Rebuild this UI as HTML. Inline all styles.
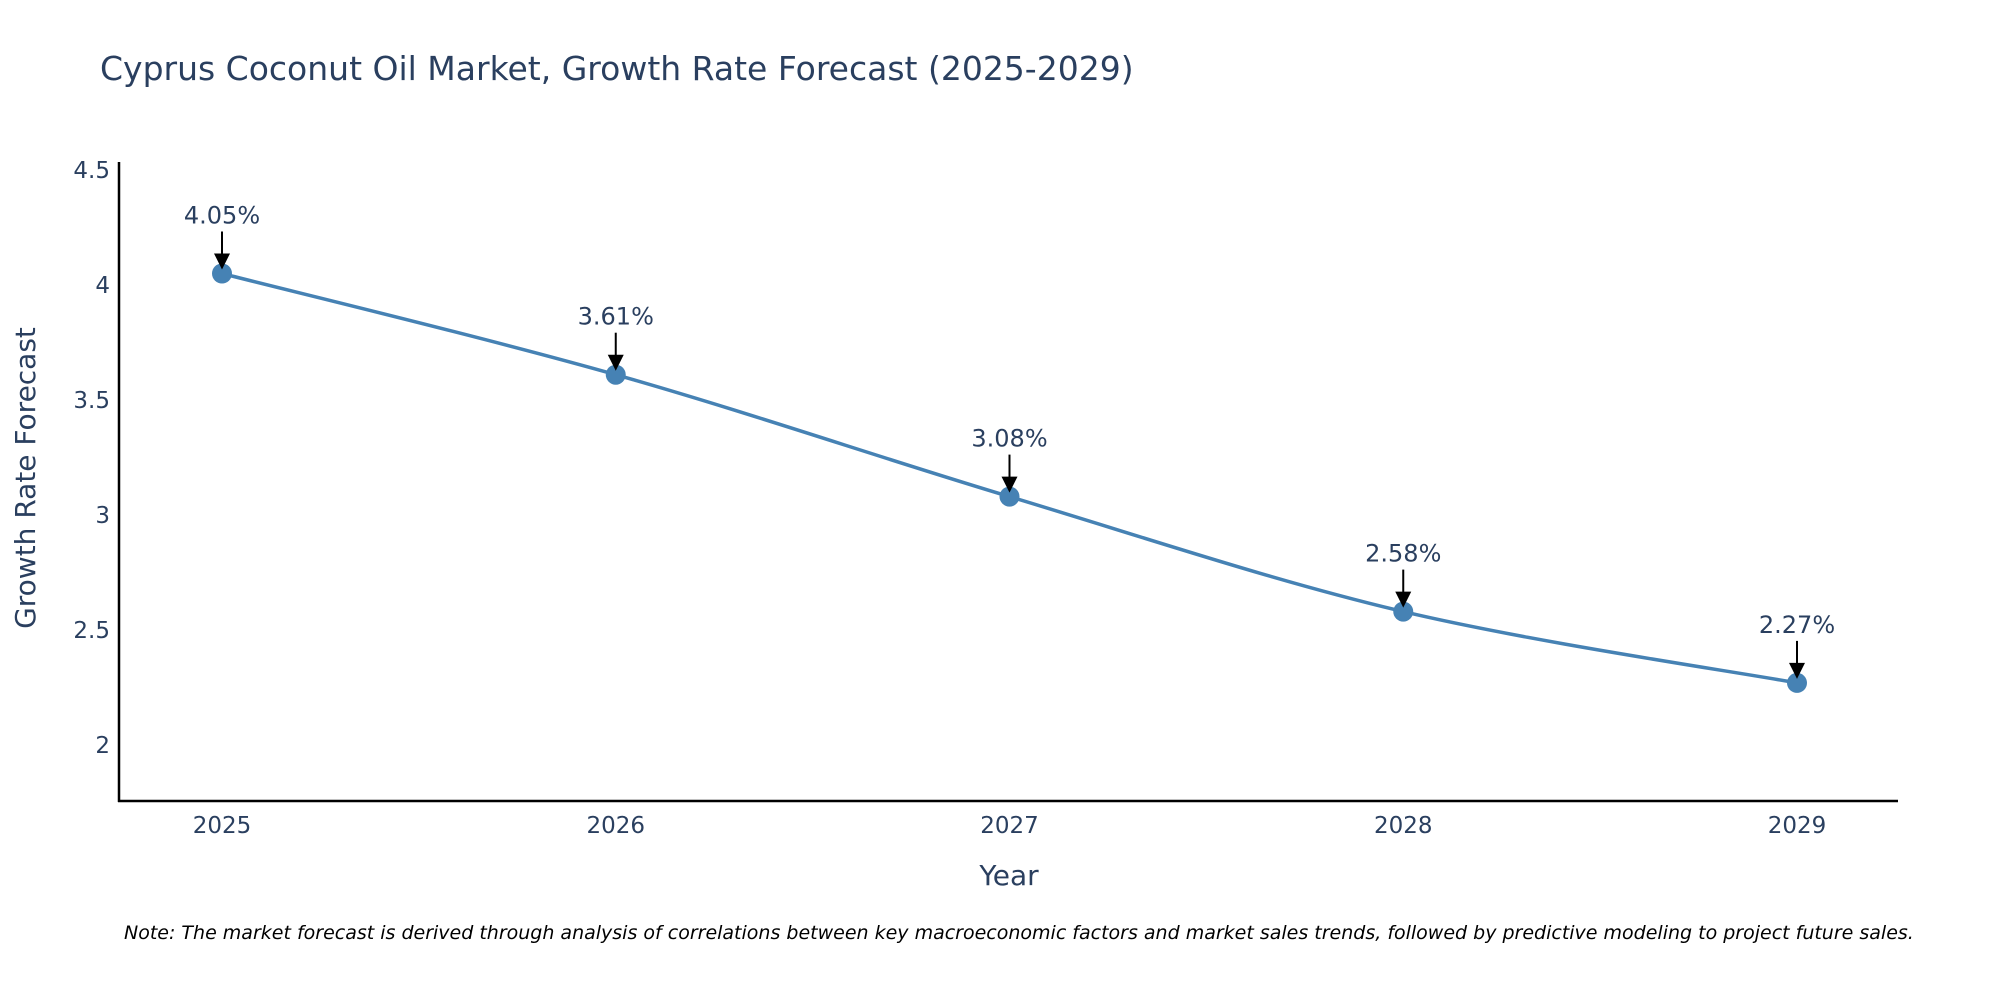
<!DOCTYPE html>
<html><head><meta charset="utf-8">
<style>
body{margin:0;background:#fff;overflow:hidden;}
svg text{font-family:"DejaVu Sans","Liberation Sans",sans-serif;fill:#2a3f5f;}
</style></head>
<body>
<svg id="chart" width="2000" height="1000" xmlns="http://www.w3.org/2000/svg">
<text x="100" y="80" font-size="33">Cyprus Coconut Oil Market, Growth Rate Forecast (2025-2029)</text>
<g id="axes"></g>
<g id="marks"></g>
<text x="1009" y="885" font-size="28" text-anchor="middle">Year</text>
<text transform="translate(35,478) rotate(-90)" font-size="28" text-anchor="middle">Growth Rate Forecast</text>
<text x="124" y="939" font-size="19" font-style="italic" style="fill:#000">Note: The market forecast is derived through analysis of correlations between key macroeconomic factors and market sales trends, followed by predictive modeling to project future sales.</text>
</svg>
<script>
const years=["2025","2026","2027","2028","2029"];
const values=[4.05,3.61,3.08,2.58,2.27];
const labels=["4.05%","3.61%","3.08%","2.58%","2.27%"];
const yTicks=[2,2.5,3,3.5,4,4.5];
const yTickLabels=["2","2.5","3","3.5","4","4.5"];

const NS="http://www.w3.org/2000/svg";
const x0=222,dx=393.75;
function xs(i){return x0+i*dx;}
function ys(v){return 745-(v-2)*230;}
function mk(tag,attrs,parent){const e=document.createElementNS(NS,tag);for(const k in attrs)e.setAttribute(k,attrs[k]);parent.appendChild(e);return e;}
const axes=document.getElementById('axes'),marks=document.getElementById('marks');
let l=mk('line',{x1:119,y1:162,x2:119,y2:802,stroke:'#000','stroke-width':2.5},axes);


l=mk('line',{x1:118,y1:801,x2:1898,y2:801,stroke:'#000','stroke-width':2.5},axes);


yTicks.forEach((v,i)=>{const t=mk('text',{x:110,y:ys(v)+8,'font-size':23,'text-anchor':'end'},axes);t.textContent=yTickLabels[i];

});
years.forEach((y,i)=>{const t=mk('text',{x:xs(i),y:833,'font-size':23,'text-anchor':'middle'},axes);t.textContent=y;

});
const pts=values.map((v,i)=>[xs(i),ys(v)]);
let d=`M${pts[0][0]},${pts[0][1]}`;
for(let i=0;i<pts.length-1;i++){const p0=pts[Math.max(i-1,0)],p1=pts[i],p2=pts[i+1],p3=pts[Math.min(i+2,pts.length-1)];const s=6;
d+=` C${p1[0]+(p2[0]-p0[0])/s},${p1[1]+(p2[1]-p0[1])/s} ${p2[0]-(p3[0]-p1[0])/s},${p2[1]-(p3[1]-p1[1])/s} ${p2[0]},${p2[1]}`;}
const path=mk('path',{d:d,fill:'none',stroke:'#4682b4','stroke-width':3.5},marks);


pts.forEach((p,i)=>{
 const c=mk('circle',{cx:p[0],cy:p[1],r:10,fill:'#4682b4'},marks);
 
 
 const a=mk('line',{x1:p[0],y1:p[1]-42,x2:p[0],y2:p[1]-18,stroke:'#000','stroke-width':2},marks);
 
 
 const h=mk('path',{d:`M${p[0]-8},${p[1]-20} L${p[0]+8},${p[1]-20} L${p[0]},${p[1]-4} Z`,fill:'#000'},marks);
 
 
 const t=mk('text',{x:p[0],y:p[1]-50,'font-size':24,'text-anchor':'middle'},marks);t.textContent=labels[i];
 
 
});
</script>
</body></html>
